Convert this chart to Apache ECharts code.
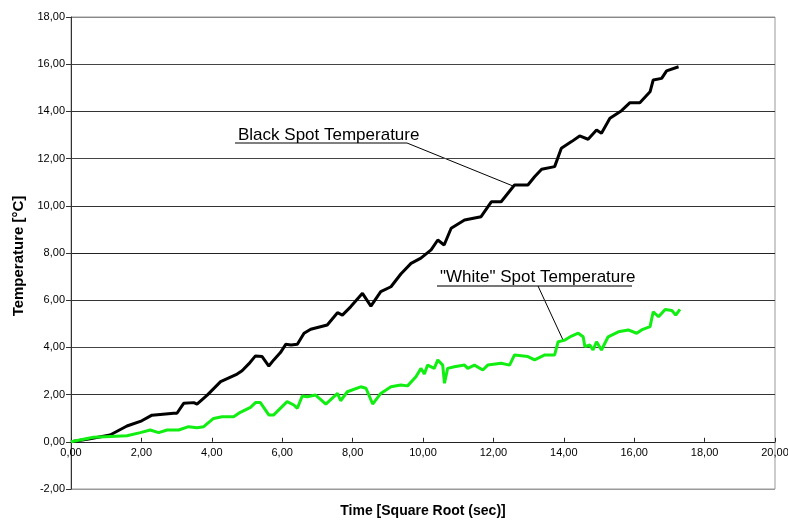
<!DOCTYPE html>
<html>
<head>
<meta charset="utf-8">
<script src="https://cdn.jsdelivr.net/npm/echarts@6/dist/echarts.min.js"></script>
<style>
  html, body { margin: 0; padding: 0; background: #fff; }
  #chart { width: 788px; height: 523px; }
</style>
</head>
<body>
<div id="chart"></div>
<script>
// axis ticks
var xTicks = [0, 2, 4, 6, 8, 10, 12, 14, 16, 18, 20];
var yTicks = [-2, 0, 2, 4, 6, 8, 10, 12, 14, 16, 18];

// [time sqrt(sec), temperature °C]
var blackPoints = [
  [0, 0], [0.5, 0.12], [1.11, 0.29], [1.59, 0.67], [2.01, 0.89], [2.30, 1.13],
  [2.92, 1.21], [3.01, 1.21], [3.20, 1.63], [3.49, 1.66], [3.58, 1.60], [3.87, 1.98],
  [4.25, 2.55], [4.72, 2.87], [4.86, 3.01], [5.05, 3.30], [5.24, 3.64], [5.43, 3.61],
  [5.62, 3.21], [5.76, 3.47], [5.95, 3.78], [6.10, 4.13], [6.25, 4.10], [6.43, 4.13],
  [6.62, 4.60], [6.81, 4.77], [7.28, 4.95], [7.57, 5.47], [7.71, 5.37], [7.95, 5.73],
  [8.28, 6.29], [8.52, 5.75], [8.80, 6.36], [9.09, 6.57], [9.37, 7.11], [9.66, 7.56],
  [9.94, 7.78], [10.23, 8.13], [10.42, 8.55], [10.60, 8.34], [10.80, 9.05], [11.18, 9.40],
  [11.65, 9.54], [11.94, 10.17], [12.22, 10.17], [12.60, 10.88], [12.98, 10.88], [13.17, 11.23],
  [13.37, 11.55], [13.74, 11.66], [13.93, 12.44], [14.22, 12.72], [14.45, 12.96], [14.69, 12.82],
  [14.93, 13.21], [15.07, 13.07], [15.31, 13.71], [15.64, 14.03], [15.88, 14.37], [16.16, 14.37],
  [16.45, 14.83], [16.54, 15.33], [16.78, 15.40], [16.92, 15.72], [17.26, 15.89]
];
var whitePoints = [
  [0, 0], [0.64, 0.19], [1.59, 0.26], [1.97, 0.39], [2.25, 0.50], [2.49, 0.39],
  [2.73, 0.50], [3.06, 0.50], [3.34, 0.64], [3.58, 0.60], [3.77, 0.64], [4.05, 0.99],
  [4.29, 1.06], [4.62, 1.06], [4.81, 1.25], [5.10, 1.46], [5.24, 1.66], [5.38, 1.66],
  [5.62, 1.14], [5.76, 1.14], [6.14, 1.70], [6.33, 1.56], [6.43, 1.42], [6.57, 1.94],
  [6.71, 1.91], [6.95, 1.98], [7.24, 1.60], [7.47, 1.91], [7.57, 2.05], [7.66, 1.74],
  [7.85, 2.12], [8.23, 2.33], [8.38, 2.27], [8.57, 1.60], [8.80, 2.05], [9.09, 2.33],
  [9.37, 2.41], [9.56, 2.37], [9.80, 2.76], [9.94, 3.11], [10.04, 2.87], [10.13, 3.25],
  [10.32, 3.11], [10.42, 3.47], [10.56, 3.25], [10.61, 2.48], [10.70, 3.11], [10.89, 3.18],
  [11.18, 3.25], [11.27, 3.11], [11.46, 3.25], [11.70, 3.04], [11.84, 3.25], [12.22, 3.33],
  [12.46, 3.25], [12.60, 3.68], [12.98, 3.61], [13.17, 3.47], [13.46, 3.68], [13.74, 3.68],
  [13.84, 4.24], [14.03, 4.31], [14.22, 4.48], [14.41, 4.60], [14.55, 4.45], [14.60, 4.03],
  [14.74, 4.10], [14.83, 3.89], [14.93, 4.24], [15.07, 3.89], [15.26, 4.45], [15.55, 4.66],
  [15.83, 4.74], [16.07, 4.60], [16.21, 4.74], [16.45, 4.88], [16.54, 5.51], [16.69, 5.30],
  [16.88, 5.61], [17.07, 5.56], [17.18, 5.37], [17.30, 5.61]
];

function fmt(v) {
  return v.toFixed(2).replace('.', ',');
}

var chart = echarts.init(document.getElementById('chart'));
var font = 'Liberation Sans, Arial, sans-serif';

// plot box
var gridTop = 17, gridBottom = 34, chartH = 523;
var plotH = chartH - gridTop - gridBottom;
var yMin = yTicks[0], yMax = yTicks[yTicks.length - 1];
// move the x axis up to the y = 0 line (labels and ticks included)
var zeroOffset = -plotH * (0 - yMin) / (yMax - yMin);

chart.setOption({
  animation: false,
  textStyle: { fontFamily: font },
  grid: {
    left: 71, right: 13, top: gridTop, bottom: gridBottom,
    outerBoundsMode: 'none',
    containLabel: false,
    show: true, borderColor: '#999', borderWidth: 1
  },
  xAxis: {
    type: 'value',
    min: xTicks[0], max: xTicks[xTicks.length - 1], interval: 2,
    position: 'bottom',
    offset: zeroOffset,
    axisLine: { onZero: false, lineStyle: { color: '#222', width: 1 } },
    axisTick: { inside: true, length: 4, lineStyle: { color: '#222' } },
    axisLabel: { formatter: fmt, fontSize: 11, color: '#000', margin: 6 },
    splitLine: { show: false }
  },
  yAxis: {
    type: 'value',
    min: yMin, max: yMax, interval: 2,
    axisLine: { show: true, lineStyle: { color: '#333', width: 1 } },
    axisTick: { show: true, length: 5, lineStyle: { color: '#333' } },
    axisLabel: { formatter: fmt, fontSize: 11, color: '#000', margin: 6 },
    splitLine: {
      show: true,
      lineStyle: {
        color: ['#999', '#222', '#333', '#444', '#333', '#222', '#333', '#444', '#333', '#444', '#888'],
        width: 1
      }
    }
  },
  series: [
    {
      name: 'Black Spot Temperature',
      type: 'line',
      data: blackPoints,
      showSymbol: false,
      lineStyle: { color: '#000', width: 3 },
      z: 3
    },
    {
      name: '"White" Spot Temperature',
      type: 'line',
      data: whitePoints,
      showSymbol: false,
      lineStyle: { color: '#11ee11', width: 3 },
      z: 3
    }
  ],
  graphic: [
    // axis titles
    {
      type: 'text', x: 423, y: 511,
      style: {
        text: 'Time [Square Root (sec)]', font: 'bold 14px ' + font, fill: '#000',
        align: 'center', verticalAlign: 'middle'
      }
    },
    {
      type: 'text', x: 19, y: 256, rotation: Math.PI / 2,
      style: {
        text: 'Temperature [°C]', font: 'bold 15px ' + font, fill: '#000',
        align: 'center', verticalAlign: 'middle'
      }
    },
    // annotations
    {
      type: 'text', x: 238, y: 135,
      style: { text: 'Black Spot Temperature', font: '17px ' + font, fill: '#000', verticalAlign: 'middle' }
    },
    {
      type: 'polyline',
      shape: { points: [[235, 143], [407, 143], [513, 186]] },
      style: { stroke: '#000', lineWidth: 1, fill: null }
    },
    {
      type: 'text', x: 440, y: 277,
      style: { text: '"White" Spot Temperature', font: '17px ' + font, fill: '#000', verticalAlign: 'middle' }
    },
    {
      type: 'line',
      shape: { x1: 437, y1: 286, x2: 632, y2: 286 },
      style: { stroke: '#777', lineWidth: 2 }
    },
    {
      type: 'line',
      shape: { x1: 538, y1: 286, x2: 563, y2: 340 },
      style: { stroke: '#000', lineWidth: 1 }
    }
  ]
});
</script>
</body>
</html>
